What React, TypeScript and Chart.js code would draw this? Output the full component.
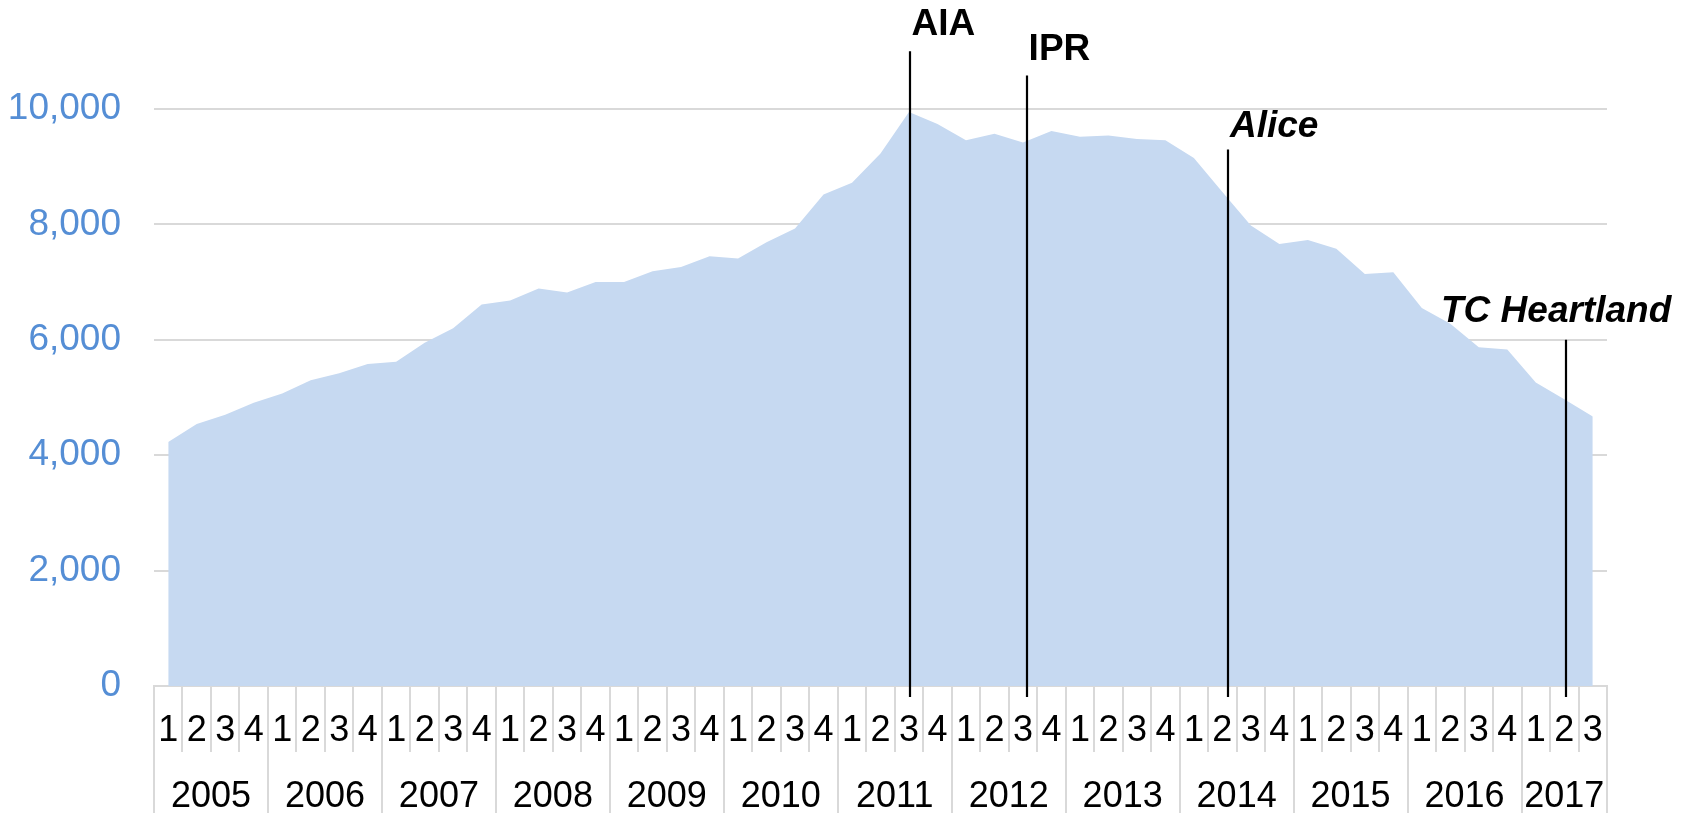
import React, { useEffect, useRef } from "react";
import { Chart, registerables } from "chart.js";

Chart.register(...registerables);

// ---- data ----
const years = ["2005", "2006", "2007", "2008", "2009", "2010", "2011", "2012", "2013", "2014", "2015", "2016", "2017"];
const quartersPerYear = [4, 4, 4, 4, 4, 4, 4, 4, 4, 4, 4, 4, 3];
const quarterNames = ["1", "2", "3", "4"];
const yTicks = [0, 2000, 4000, 6000, 8000, 10000];

const cases = [
  4230, 4540, 4700, 4910, // 2005
  5070, 5300, 5420, 5580, // 2006
  5620, 5950, 6200, 6610, // 2007
  6680, 6890, 6820, 7000, // 2008
  7000, 7190, 7260, 7450, // 2009
  7410, 7690, 7930, 8520, // 2010
  8720, 9230, 9950, 9740, // 2011
  9460, 9570, 9420, 9620, // 2012
  9520, 9540, 9480, 9460, // 2013
  9150, 8560, 7980, 7660, // 2014
  7730, 7580, 7140, 7170, // 2015
  6550, 6280, 5870, 5830, // 2016
  5260, 4970, 4670,       // 2017
];

const eventLabels = ["AIA", "IPR", "Alice", "TC Heartland"];
const eventCategory = [26.04, 30.14, 37.2, 49.06];
const eventTopValue = [11000, 10580, 9300, 6000];

// ---- derived labels ----
const quarterLabels: string[] = [];
years.forEach((_, yi) => {
  for (let q = 0; q < quartersPerYear[yi]; q++) quarterLabels.push(quarterNames[q]);
});

// ---- styles / layout ----
const FONT = "'Liberation Sans', Arial, Helvetica, sans-serif";
const GRID = "#d9d9d9";
const eventStyle = [
  { italic: false, dx: 1.5, dy: -16 },
  { italic: false, dx: 1.6, dy: -15.5 },
  { italic: true, dx: 2, dy: -12.5 },
  { italic: true, dx: -125, dy: -18 },
];

const overlay = {
  id: "overlay",
  afterDraw(chart: any) {
    const { ctx, chartArea, scales } = chart;
    const xs = scales.x;
    const ys = scales.y;
    const axisY = chartArea.bottom;
    const H = chart.height;
    ctx.save();

    // category separators below the axis
    const yearBoundaries = new Set<number>();
    let acc = 0;
    yearBoundaries.add(0);
    quartersPerYear.forEach((c) => {
      acc += c;
      yearBoundaries.add(acc);
    });
    ctx.strokeStyle = GRID;
    ctx.lineWidth = 2;
    for (let b = 0; b <= quarterLabels.length; b++) {
      const px = Math.round(xs.getPixelForValue(b - 0.5));
      const bottom = yearBoundaries.has(b) ? H : axisY + 66;
      ctx.beginPath();
      ctx.moveTo(px, axisY);
      ctx.lineTo(px, bottom);
      ctx.stroke();
    }

    // year labels
    ctx.fillStyle = "#000";
    ctx.font = `36px ${FONT}`;
    ctx.textAlign = "center";
    ctx.textBaseline = "middle";
    let start = 0;
    years.forEach((yr, yi) => {
      const end = start + quartersPerYear[yi] - 1;
      const cx = (xs.getPixelForValue(start) + xs.getPixelForValue(end)) / 2;
      ctx.fillText(yr, cx, axisY + 111);
      start = end + 1;
    });

    // event lines and labels
    eventLabels.forEach((label, i) => {
      const px = Math.round(xs.getPixelForValue(eventCategory[i]));
      const top = ys.getPixelForValue(eventTopValue[i]);
      ctx.strokeStyle = "#000";
      ctx.lineWidth = 2.2;
      ctx.beginPath();
      ctx.moveTo(px, top);
      ctx.lineTo(px, axisY + 11);
      ctx.stroke();
      const st = eventStyle[i];
      ctx.font = `${st.italic ? "italic " : ""}bold 37px ${FONT}`;
      ctx.textAlign = "left";
      ctx.textBaseline = "alphabetic";
      ctx.fillStyle = "#000";
      ctx.fillText(label, px + st.dx, top + st.dy);
    });
    ctx.restore();
  },
};

export default function App() {
  const ref = useRef<HTMLCanvasElement>(null);
  useEffect(() => {
    if (!ref.current) return;
    const chart = new Chart(ref.current, {
      type: "line",
      data: {
        labels: quarterLabels,
        datasets: [
          {
            data: cases,
            fill: "origin",
            backgroundColor: "#c6d9f1",
            borderWidth: 0,
            borderColor: "rgba(0,0,0,0)",
            pointRadius: 0,
            tension: 0,
          },
        ],
      },
      options: {
        animation: false,
        responsive: false,
        layout: { padding: { left: 0, right: 87, top: 109, bottom: 0 } },
        plugins: { legend: { display: false }, tooltip: { enabled: false }, title: { display: false } },
        scales: {
          x: {
            offset: true,
            grid: { display: false, drawTicks: false },
            border: { display: true, color: GRID, width: 2 },
            ticks: {
              autoSkip: false,
              maxRotation: 0,
              minRotation: 0,
              padding: 23,
              color: "#000",
              font: { family: FONT, size: 36 },
            },
            afterFit: (s: any) => {
              s.height = 127;
            },
          },
          y: {
            min: 0,
            max: 10000,
            afterBuildTicks: (s: any) => {
              s.ticks = yTicks.map((v) => ({ value: v }));
            },
            grid: { color: GRID, lineWidth: 2, drawTicks: false },
            border: { display: false },
            ticks: {
              padding: 33,
              color: "#558ed5",
              font: { family: FONT, size: 37 },
              callback: (v: any) => Number(v).toLocaleString("en-US"),
            },
            afterFit: (s: any) => {
              s.width = 154;
            },
          },
        },
      },
      plugins: [overlay],
    });
    return () => chart.destroy();
  }, []);
  return (
    <div style={{ position: "fixed", left: 0, top: 0, width: 1694, height: 813, background: "#fff" }}>
      <canvas ref={ref} width={1694} height={813} style={{ display: "block" }} />
    </div>
  );
}
